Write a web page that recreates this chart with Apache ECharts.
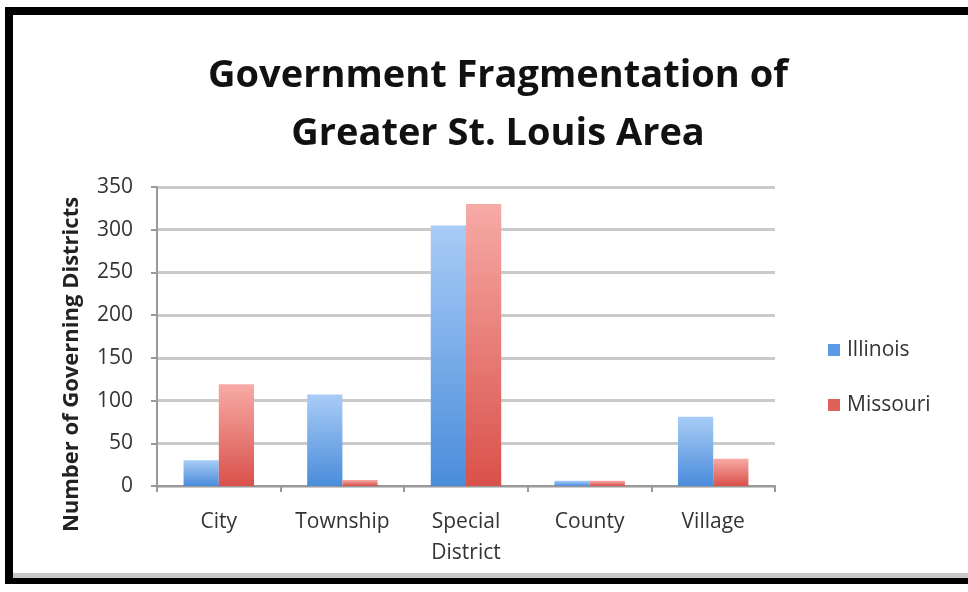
<!DOCTYPE html>
<html>
<head>
<meta charset="utf-8">
<script src="https://cdn.jsdelivr.net/npm/echarts@6/dist/echarts.min.js"></script>
<style>
html,body{margin:0;padding:0;background:#fff;}
#frame{position:absolute;left:5px;top:7px;width:980px;height:577px;box-sizing:border-box;border-top:8px solid #000;border-left:8px solid #000;border-bottom:6px solid #000;background:#fff;}
#frame:after{content:"";position:absolute;left:0;right:0;bottom:0;height:5px;background:#c8c8c8;}
#chart{position:absolute;left:0;top:0;width:968px;height:592px;}
</style>
</head>
<body>
<div id="frame"></div>
<div id="chart"></div>
<script>
const categories = ['City', 'Township', 'Special\nDistrict', 'County', 'Village'];
const illinois = [30, 107, 305, 6, 81];
const missouri = [119, 7, 330, 6, 32];
const yTicks = [0, 50, 100, 150, 200, 250, 300, 350];

const chart = echarts.init(document.getElementById('chart'), null, {renderer: 'canvas'});
const font = '"Open Sans", sans-serif';
function grad(top, bottom) {
  return new echarts.graphic.LinearGradient(0, 0, 0, 1, [
    {offset: 0, color: top}, {offset: 1, color: bottom}
  ]);
}
chart.setOption({
  backgroundColor: 'transparent',
  animation: false,
  title: {
    text: 'Government Fragmentation of\nGreater St. Louis Area',
    left: 493, top: 42, textAlign: 'center',
    textStyle: {fontFamily: font, fontSize: 38, fontWeight: 'bold', color: '#111', lineHeight: 58}
  },
  legend: {
    orient: 'vertical', left: 823, top: 334, itemGap: 33,
    itemWidth: 12, itemHeight: 12, icon: 'rect',
    textStyle: {fontFamily: font, fontSize: 21, color: '#333', lineHeight: 22, padding: [0, 0, 0, 2]},
    data: [
      {name: 'Illinois', itemStyle: {color: '#5b9be6'}},
      {name: 'Missouri', itemStyle: {color: '#e0605a'}}
    ]
  },
  grid: {left: 157, right: 193, top: 187, bottom: 106},
  xAxis: {
    type: 'category', data: categories,
    axisLine: {lineStyle: {color: '#999', width: 2}},
    axisTick: {show: true, length: 6, lineStyle: {color: '#999', width: 2}},
    axisLabel: {fontFamily: font, fontSize: 21, color: '#333', margin: 21, lineHeight: 31}
  },
  yAxis: {
    type: 'value', min: 0, max: 350, interval: 50,
    name: 'Number of Governing Districts', nameLocation: 'middle', nameGap: 74,
    nameTextStyle: {fontFamily: font, fontSize: 22, fontWeight: 'bold', color: '#222', padding: [0, 56, 0, 0]},
    axisLine: {show: true, lineStyle: {color: '#999', width: 2}},
    axisTick: {show: true, length: 6, lineStyle: {color: '#999', width: 2}},
    axisLabel: {fontFamily: font, fontSize: 21, color: '#333', margin: 24,
      formatter: v => yTicks.includes(v) ? String(v) : ''},
    splitLine: {lineStyle: {color: '#cacaca', width: 3}}
  },
  series: [
    {name: 'Illinois', type: 'bar', data: illinois, barGap: '0%', barCategoryGap: '43%',
     itemStyle: {color: grad('#a8ccf6', '#4a8cdb')}},
    {name: 'Missouri', type: 'bar', data: missouri,
     itemStyle: {color: grad('#f7aaa6', '#d9514a')}}
  ]
});
</script>
</body>
</html>
